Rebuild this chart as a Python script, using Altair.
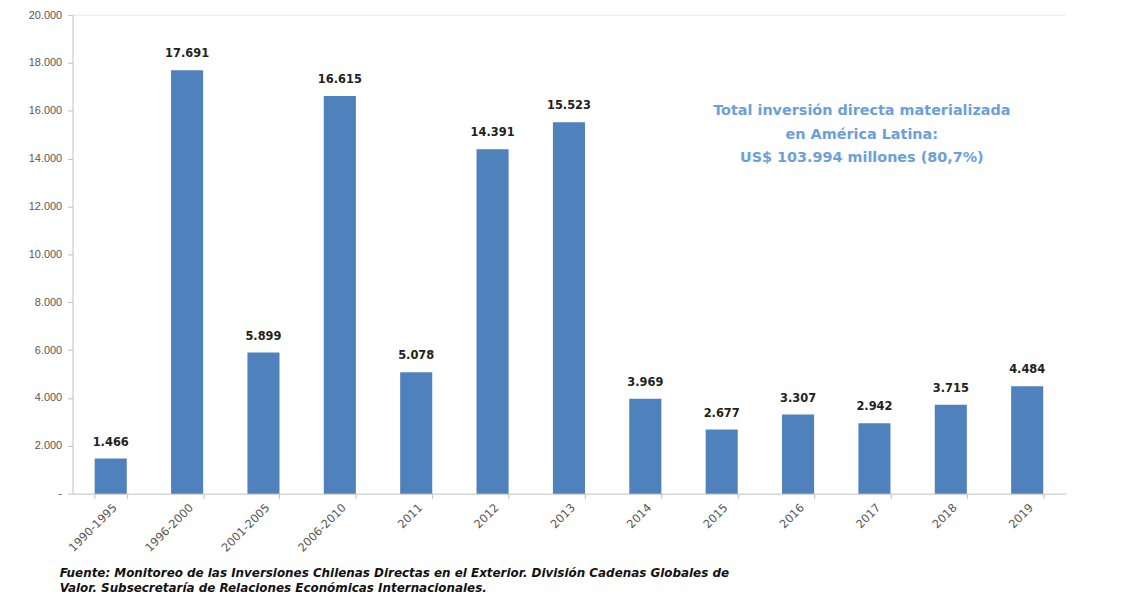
import altair as alt
import pandas as pd

categories = ["1990-1995", "1996-2000", "2001-2005", "2006-2010", "2011", "2012",
              "2013", "2014", "2015", "2016", "2017", "2018", "2019"]
values = [1466, 17691, 5899, 16615, 5078, 14391, 15523, 3969, 2677, 3307, 2942, 3715, 4484]

note_lines = ["Total inversión directa materializada", "en  América Latina:",
              "US$ 103.994 millones (80,7%)"]
source_lines = ["Fuente: Monitoreo de las Inversiones Chilenas Directas en el Exterior.  División Cadenas Globales de",
                "Valor. Subsecretaría de Relaciones Económicas Internacionales."]

df = pd.DataFrame({"cat": categories, "val": values})
FONT = "Liberation Sans"
WIDE = "DejaVu Sans"

W, H = 1000, 482

x = alt.X("cat:N", sort=categories, title=None,
          scale=alt.Scale(paddingInner=0.58, paddingOuter=0.29),
          axis=alt.Axis(labelAngle=-45, labelAlign="right", labelBaseline="top",
                        labelFont=WIDE, labelFontSize=11.5, labelColor="#555555",
                        domainColor="#BFBFBF", tickColor="#BFBFBF", tickSize=5,
                        tickBand="extent", labelPadding=3))
y = alt.Y("val:Q", title=None,
          scale=alt.Scale(domain=[0, 20000]),
          axis=alt.Axis(values=list(range(0, 20001, 2000)), grid=False,
                        labelExpr="datum.value == 0 ? '-' : replace(format(datum.value, ','), ',', '.')",
                        labelFont=FONT, labelFontSize=11, labelColor="#555555",
                        domainColor="#BFBFBF", tickColor="#BFBFBF", tickSize=5,
                        labelPadding=6))

base = alt.Chart(df)
bars = base.mark_bar(color="#4F81BD").encode(x=x, y=y)
labels = base.transform_calculate(
    lab="replace(format(datum.val, ','), ',', '.')"
).mark_text(dy=-16, font=WIDE, fontSize=11.5, fontWeight="bold", color="#222222").encode(
    x=alt.X("cat:N", sort=categories), y="val:Q", text="lab:N")

top = alt.Chart(pd.DataFrame({"v": [20000]})).mark_rule(color="#E6E6E6").encode(y="v:Q")

note = alt.layer(*[
    alt.Chart(pd.DataFrame({"t": [t]})).mark_text(font=WIDE, fontSize=14.5, fontWeight="bold",
                                                  color="#6C9FDA", align="center").encode(
        x=alt.value(795), y=alt.value(97 + 23.5 * i), text="t:N")
    for i, t in enumerate(note_lines)])

src = alt.layer(*[
    alt.Chart(pd.DataFrame({"t": [t]})).mark_text(font=WIDE, fontSize=12, fontWeight="bold",
                                                  fontStyle="italic", color="#111111",
                                                  align="left").encode(
        x=alt.value(-13), y=alt.value(562 + 15 * i), text="t:N")
    for i, t in enumerate(source_lines)])

chart = alt.layer(top, bars, labels, note, src).properties(
    width=W, height=H,
    autosize=alt.AutoSizeParams(type="none"),
    padding={"left": 65, "top": 5, "right": 51, "bottom": 112},
    background="white",
).configure_view(stroke=None)

chart.save("out.html", embed_options={"renderer": "svg", "actions": False})
